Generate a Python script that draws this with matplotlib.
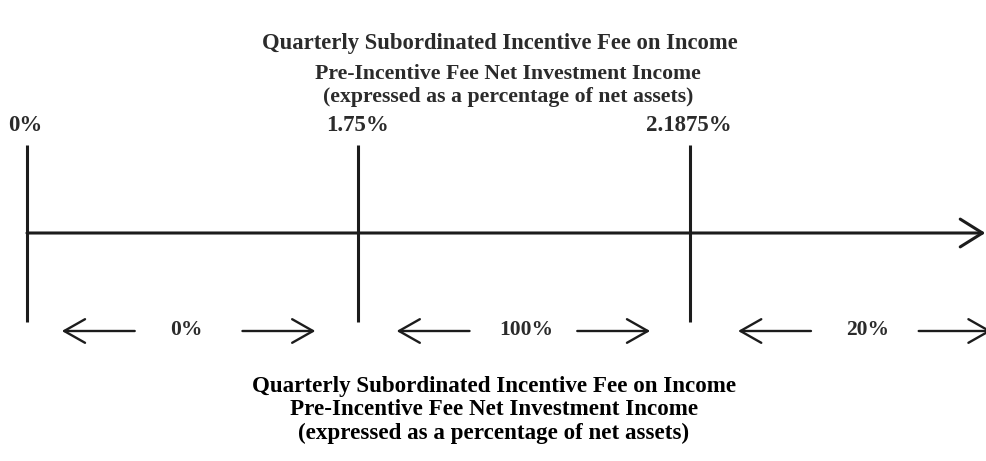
import numpy as np
import matplotlib
matplotlib.use("Agg")
import matplotlib.pyplot as plt
from matplotlib.patches import FancyArrowPatch

# ---- data ----
thresholds = ["0%", "1.75%", "2.1875%"]
threshold_values = [0.0, 1.75, 2.1875]
fee_rates = ["0%", "100%", "20%"]
title_top = "Quarterly Subordinated Incentive Fee on Income"
subtitle_top = ["Pre-Incentive Fee Net Investment Income",
                "(expressed as a percentage of net assets)"]
caption_lines = ["Quarterly Subordinated Incentive Fee on Income",
                 "Pre-Incentive Fee Net Investment Income",
                 "(expressed as a percentage of net assets)"]

plt.rcParams['font.family'] = ['Liberation Serif', 'DejaVu Serif']

W, H = 986, 461
fig = plt.figure(figsize=(W / 100, H / 100), dpi=100)
ax = fig.add_axes([0, 0, 1, 1])
x_right = 2.893
ax.set_xlim(-0.0814, x_right)
ax.set_ylim(H, 0)
ax.axis('off')

line_col = '#1c1c1c'
txt_col = '#2b2b2b'
lw = 2.2
pos = np.arange(len(thresholds))

# threshold ticks
ax.vlines(pos, 145, 322, color=line_col, lw=lw)
# main axis with arrow
ax.add_patch(FancyArrowPatch((pos[0], 233), (x_right - 0.002, 233),
                             arrowstyle='->,head_length=16,head_width=10',
                             mutation_scale=1, lw=lw, color=line_col,
                             shrinkA=0, shrinkB=0))

# threshold labels
for p, lab in zip(pos, thresholds):
    ax.text(p - 0.004, 125, lab, ha='center', va='center', fontsize=16.5,
            fontweight='bold', color=txt_col)

# fee-rate segments (label centre in segment, arrows on each side)
mids = [0.49, 1.5, 2.53]
label_shift = [-0.01, 0.005, 0.005]
for m, dx, rate in zip(mids, label_shift, fee_rates):
    ax.text(m + dx, 330, rate, ha='center', va='center', fontsize=15.5,
            fontweight='bold', color=txt_col)
    ax.add_patch(FancyArrowPatch((m - 0.165, 331), (m - 0.385, 331),
                                 arrowstyle='->,head_length=15,head_width=8.5',
                                 mutation_scale=1, lw=1.7, color=line_col,
                                 shrinkA=0, shrinkB=0))
    ax.add_patch(FancyArrowPatch((m + 0.16, 331), (m + 0.38, 331),
                                 arrowstyle='->,head_length=15,head_width=8.5',
                                 mutation_scale=1, lw=1.7, color=line_col,
                                 shrinkA=0, shrinkB=0))

# top titles
fig.text(500 / W, 1 - 43 / H, title_top, ha='center', va='center',
         fontsize=16.3, fontweight='bold', color=txt_col)
for i, s in enumerate(subtitle_top):
    fig.text(508 / W, 1 - (74 + 23 * i) / H, s, ha='center', va='center',
             fontsize=15.7, fontweight='bold', color=txt_col)

# bottom caption
for i, s in enumerate(caption_lines):
    fig.text(494 / W, 1 - (386 + 23.5 * i) / H, s, ha='center', va='center',
             fontsize=16.6, fontweight='bold', color='black')

fig.savefig('out.png', dpi=100)
